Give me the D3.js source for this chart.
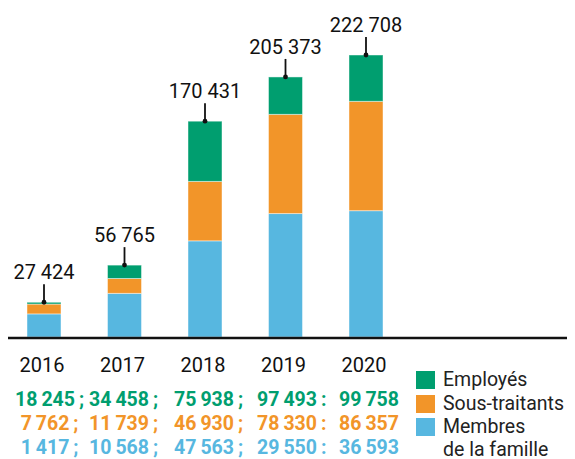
<!DOCTYPE html>
<html>
<head>
<meta charset="utf-8">
<script src="https://cdn.jsdelivr.net/npm/d3@7"></script>
<style>
  html, body { margin: 0; padding: 0; background: #fff; }
  svg { display: block; font-family: Roboto, "Noto Sans", sans-serif; }
</style>
</head>
<body>
<svg id="chart" width="575" height="459"></svg>
<script>
// Effectifs par année et par catégorie
const years = ["2016", "2017", "2018", "2019", "2020"];
const employes = [18245, 34458, 75938, 97493, 99758];
const sousTraitants = [7762, 11739, 46930, 78330, 86357];
const membresFamille = [1417, 10568, 47563, 29550, 36593];

const legendLabels = [["Employés"], ["Sous-traitants"], ["Membres", "de la famille"]];
const separators = [";", ";", ";", ":"];

const green = "#009e6f", orange = "#f29529", blue = "#57b7e0";
const legendColors = [green, orange, blue];
// couches empilées de bas en haut
const stackKeys = ["employes", "sousTraitants", "membresFamille"];
const layerFill = [blue, orange, green];

const rows = years.map((y, i) => ({
  year: y,
  employes: employes[i],
  sousTraitants: sousTraitants[i],
  membresFamille: membresFamille[i]
}));
const totals = rows.map(r => r.employes + r.sousTraitants + r.membresFamille);

const svg = d3.select("#chart");
const baseY = 337;

const x = d3.scalePoint().domain(years).range([44, 366]);
const barW = 34;
const y = d3.scaleLinear().domain([0, d3.max(totals)]).range([baseY, 55]);

const series = d3.stack().keys(stackKeys)(rows);

svg.append("g").selectAll("g")
  .data(series)
  .join("g")
  .attr("fill", (d, i) => layerFill[i])
  .selectAll("rect")
  .data(d => d)
  .join("rect")
  .attr("x", d => x(d.data.year) - barW / 2)
  .attr("y", d => y(d[1]))
  .attr("width", barW)
  .attr("height", d => y(d[0]) - y(d[1]))
  .attr("stroke", "rgba(255,255,255,0.45)")
  .attr("stroke-width", 1);

// ligne de base
svg.append("line")
  .attr("x1", 8).attr("x2", 567)
  .attr("y1", baseY + 1).attr("y2", baseY + 1)
  .attr("stroke", "#111").attr("stroke-width", 2.5);

// totaux au-dessus des barres
const fmt = v => d3.format(",")(v).replace(/,/g, "\u2009");
const fmtSp = v => d3.format(",")(v).replace(/,/g, " ");
const tot = svg.append("g").selectAll("g")
  .data(rows.map((r, i) => ({ year: r.year, total: totals[i] })))
  .join("g");
tot.append("line")
  .attr("x1", d => x(d.year)).attr("x2", d => x(d.year))
  .attr("y1", d => y(d.total) - 18).attr("y2", d => y(d.total))
  .attr("stroke", "#111").attr("stroke-width", 1.8);
tot.append("circle")
  .attr("cx", d => x(d.year)).attr("cy", d => y(d.total))
  .attr("r", 2.4).attr("fill", "#111");
tot.append("text")
  .attr("x", d => x(d.year)).attr("y", d => y(d.total) - 23)
  .attr("text-anchor", "middle")
  .attr("font-size", 20).attr("fill", "#111")
  .text(d => fmtSp(d.total));

// années sous l'axe
svg.append("g").selectAll("text")
  .data(years)
  .join("text")
  .attr("x", d => x(d) - 2)
  .attr("y", 372)
  .attr("text-anchor", "middle")
  .attr("font-size", 20).attr("fill", "#111")
  .text(d => d);

// détail des valeurs par catégorie
const valueRows = [employes, sousTraitants, membresFamille];
const rowY = [406, 430, 454];
const colX = [45, 119, 204, 287, 369];
valueRows.forEach((vals, r) => {
  const g = svg.append("g")
    .attr("fill", legendColors[r])
    .attr("font-size", 19.5)
    .attr("font-weight", 700);
  vals.forEach((v, c) => {
    const t = g.append("text")
      .attr("x", colX[c]).attr("y", rowY[r])
      .attr("text-anchor", "middle")
      .text(fmt(v));
    if (c < separators.length) {
      const bb = t.node().getBBox();
      g.append("text")
        .attr("x", bb.x + bb.width + 4).attr("y", rowY[r])
        .text(separators[c]);
    }
  });
});

// légende
const legY = [371, 395, 418];
const leg = svg.append("g");
legendLabels.forEach((lines, i) => {
  leg.append("rect")
    .attr("x", 416).attr("y", legY[i])
    .attr("width", 19).attr("height", 18)
    .attr("fill", legendColors[i]);
  const t = leg.append("text")
    .attr("x", 443).attr("y", legY[i] + 15)
    .attr("font-size", 19.5).attr("fill", "#222");
  lines.forEach((l, j) => {
    t.append("tspan").attr("x", 443).attr("dy", j === 0 ? 0 : 22.5).text(l);
  });
});
</script>
</body>
</html>
